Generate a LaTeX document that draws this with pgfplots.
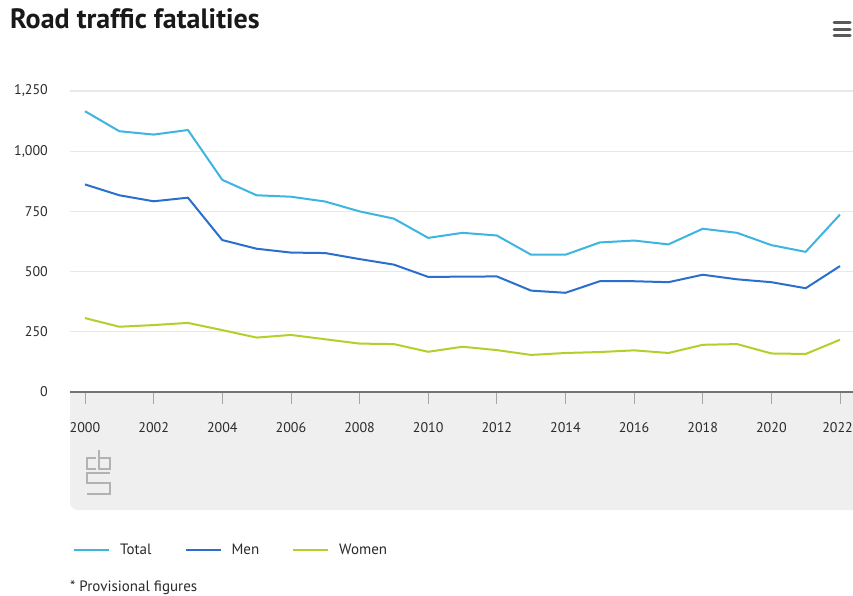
\documentclass[border=0pt]{standalone}
\usepackage{fontspec}
\setmainfont{PT Sans}
\usepackage{pgfplots}
\pgfplotsset{compat=1.18}
\definecolor{ctotal}{HTML}{3DB5E0}
\definecolor{cmen}{HTML}{2B6FCE}
\definecolor{cwomen}{HTML}{B4CF2A}
\definecolor{panel}{HTML}{EFEFEF}
\definecolor{txt}{HTML}{2A2A2A}
\begin{document}
\begin{tikzpicture}
\path[use as bounding box] (0,0) rectangle (853pt,-596pt);
\fill[white] (0,0) rectangle (853pt,-596pt);
\node[anchor=base west, font=\fontsize{28}{31}\selectfont\bfseries, inner sep=0, text=black!90] at (10pt,-29pt) {Road traffic fatalities};
\foreach \yy in {23,29.5,36} \draw[line width=3pt, black!65, line cap=round] (834pt,-\yy pt) -- (850pt,-\yy pt);
\fill[panel] (70pt,-392pt) [rounded corners=8pt] -- (70pt,-510pt) [sharp corners] -- (860pt,-510pt) -- (860pt,-392pt) -- cycle;
% logo
\begin{scope}[line width=2.2pt, black!30]
\draw (96pt,-458pt) -- (87pt,-458pt) -- (87pt,-469pt) -- (96pt,-469pt);
\draw (99pt,-450pt) -- (99pt,-469pt) -- (110pt,-469pt) -- (110pt,-458pt) -- (99pt,-458pt);
\draw (110pt,-473pt) -- (87pt,-473pt) -- (87pt,-483pt) -- (110pt,-483pt) -- (110pt,-494pt) -- (87pt,-494pt);
\end{scope}
\begin{axis}[
  at={(70pt,-392pt)}, anchor=south west,
  scale only axis, width=783pt, height=301pt,
  xmin=1999.563, xmax=2022.379, ymin=0, ymax=1250,
  axis x line*=bottom, axis y line*=left,
  y axis line style={draw=none},
  x axis line style={line width=2pt, color=black!55},
  ytick={0,250,...,1250},
  ymajorgrids, grid style={line width=1.2pt, color=black!9},
  ytick style={draw=none},
  xtick={2000,2002,...,2022},
  xticklabels={2000,2002,2004,2006,2008,2010,2012,2014,2016,2018,2020,2022*},
  xtick style={draw=black!35, line width=0.7pt},
  tick align=outside, major tick length=12pt,
  /pgf/number format/assume math mode=true,
  /pgf/number format/.cd, 1000 sep={,}, /pgfplots/.cd,
  tick label style={font=\fontsize{14}{16}\selectfont, text=txt},
  yticklabel style={inner sep=0pt, xshift=-10pt},
  xticklabel style={yshift=-15pt},
  legend style={at={(0,-0.525)}, anchor=west, draw=none, fill=none,
    font=\fontsize{15}{17}\selectfont, text=txt, legend columns=3,
    /tikz/every odd column/.append style={column sep=8pt},
    /tikz/every even column/.append style={column sep=31pt}},
  legend image code/.code={\draw[#1, line width=2pt] (0pt,0pt) -- (35pt,0pt);},
  legend cell align=left,
  every axis plot/.append style={line width=2pt, line join=round},
]
\addplot[ctotal] coordinates {(2000,1166)(2001,1083)(2002,1069)(2003,1088)(2004,881)(2005,817)(2006,811)(2007,791)(2008,750)(2009,720)(2010,640)(2011,661)(2012,650)(2013,570)(2014,570)(2015,621)(2016,629)(2017,613)(2018,678)(2019,661)(2020,610)(2021,582)(2022,737)};
\addlegendentry{Total}
\addplot[cmen] coordinates {(2000,862)(2001,817)(2002,792)(2003,807)(2004,631)(2005,595)(2006,579)(2007,577)(2008,552)(2009,529)(2010,478)(2011,479)(2012,480)(2013,421)(2014,412)(2015,460)(2016,460)(2017,456)(2018,487)(2019,468)(2020,456)(2021,431)(2022,523)};
\addlegendentry{Men}
\addplot[cwomen] coordinates {(2000,307)(2001,271)(2002,278)(2003,287)(2004,257)(2005,226)(2006,237)(2007,219)(2008,201)(2009,199)(2010,167)(2011,188)(2012,174)(2013,154)(2014,162)(2015,166)(2016,173)(2017,162)(2018,196)(2019,199)(2020,160)(2021,158)(2022,217)};
\addlegendentry{Women}
\end{axis}
\node[anchor=base west, font=\fontsize{15}{17}\selectfont, inner sep=0, text=txt] at (70pt,-591pt) {* Provisional figures};
\end{tikzpicture}
\end{document}
